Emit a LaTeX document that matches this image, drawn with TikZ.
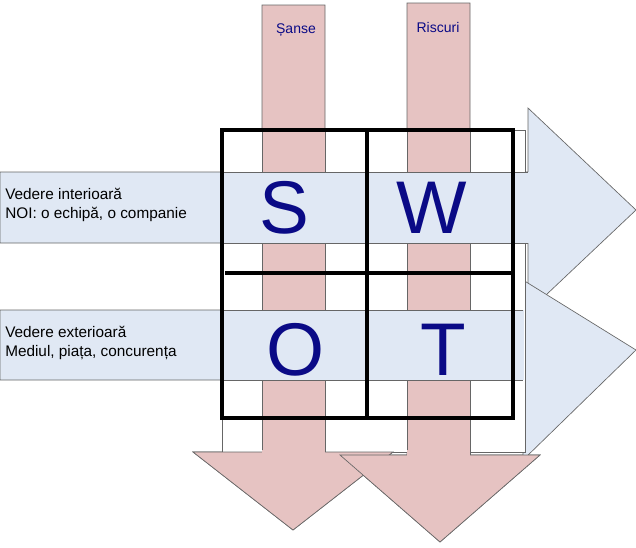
\documentclass[tikz,border=0pt]{standalone}
\usepackage{fontspec}
\setmainfont{Liberation Sans}
\begin{document}
\begin{tikzpicture}[x=0.75pt,y=-0.75pt,
  pinkc/.style={fill=pinkfill,draw=gray!80!black,line width=0.5pt},
  bluec/.style={fill=bluefill,draw=gray!80!black,line width=0.5pt},
  grid/.style={draw=black,line width=2.4pt},
  big/.style={text=letterblue,font=\fontsize{56}{56}\selectfont},
  lab/.style={text=letterblue,font=\fontsize{10.5}{12}\selectfont,inner sep=0pt},
  side/.style={text=black,font=\fontsize{11.5}{14}\selectfont,align=left,anchor=west,inner sep=0pt}]
\definecolor{pinkfill}{HTML}{E6C3C2}
\definecolor{bluefill}{HTML}{E0E8F4}
\definecolor{letterblue}{HTML}{0A0A86}
\useasboundingbox (0,0) rectangle (636,547);
% pink arrows
\draw[pinkc] (262,5) -- (325,5) -- (325,452) -- (393,452) -- (293,530) -- (193,452) -- (262,452) -- cycle;
\draw[pinkc] (407,3) -- (470,3) -- (470,455) -- (540,455) -- (440,542) -- (340,455) -- (407,455) -- cycle;
% blue arrows
\draw[bluec] (0,172) -- (528,172) -- (528,108) -- (636,210) -- (528,312) -- (528,243) -- (0,243) -- cycle;
\draw[bluec] (0,310) -- (523,310) -- (523,280) -- (636,350) -- (523,460) -- (523,380) -- (0,380) -- cycle;
% white box
\draw[fill=white,draw=gray!80!black,line width=0.5pt] (222,130) rectangle (525,452);
% shafts again inside the box
\fill[pinkfill] (262,130) rectangle (325,452.5);
\fill[pinkfill] (407,130) rectangle (470,455.5);
\draw[gray!80!black,line width=0.5pt] (262,130) -- (262,452) (325,130) -- (325,452) (407,130) -- (407,455) (470,130) -- (470,455);
\fill[bluefill] (221.5,172) rectangle (528.5,243);
\fill[bluefill] (221.5,310) rectangle (523.5,380);
\draw[gray!80!black,line width=0.5pt] (222,172) -- (528,172) (222,243) -- (528,243) (222,310) -- (523,310) (222,380) -- (523,380);
% pink heads over blue heads
\draw[pinkc] (325,452) -- (393,452) -- (293,530) -- (193,452) -- (262,452);
\draw[pinkc] (470,455) -- (540,455) -- (440,542) -- (340,455) -- (407,455);
\fill[pinkfill] (262.3,450) rectangle (324.7,453);
\fill[pinkfill] (407.3,450) rectangle (469.7,456);
% grid
\draw[grid] (222,130) rectangle (513,418);
\draw[grid] (367,128) -- (367,420);
\draw[grid] (225,273) -- (515,273);
% letters
\node[big] (s) at (284,208) {S};
\node[big] (w) at (432,208) {W};
\node[big] (o) at (296,350) {O};
\node[big] (t) at (443,350) {T};
\node[lab] (sanse) at (296,30) {Șanse};
\node[lab] (riscuri) at (438,27) {Riscuri};
\node[side] (vi) at (5,205) {Vedere interioară\\NOI: o echipă, o companie};
\node[side] (ve) at (5,343) {Vedere exterioară\\Mediul, piața, concurența};
\end{tikzpicture}
\end{document}
